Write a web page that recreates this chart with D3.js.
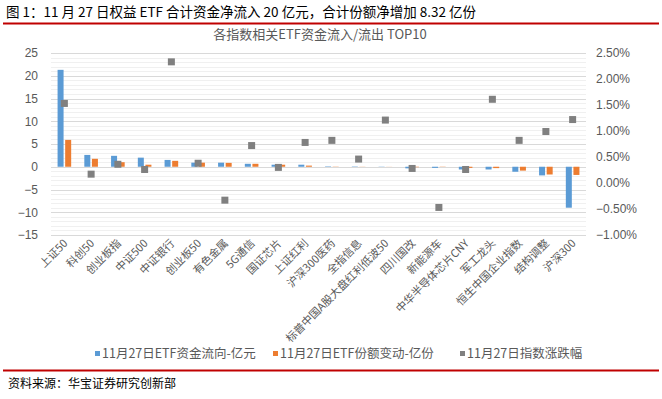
<!DOCTYPE html>
<html>
<head>
<meta charset="utf-8">
<script src="https://cdn.jsdelivr.net/npm/d3@7"></script>
<style>
  body { margin: 0; background: #fff; }
  svg { display: block; font-family: "Noto Sans CJK SC", "Noto Sans", sans-serif; }
</style>
</head>
<body>
<svg id="chart" width="662" height="399"></svg>
<script>
const categories = [
  "上证50", "科创50", "创业板指", "中证500", "中证银行", "创业板50", "有色金属",
  "5G通信", "国证芯片", "上证红利", "沪深300医药", "全指信息", "标普中国A股大盘红利低波50",
  "四川国改", "新能源车", "中华半导体芯片CNY", "军工龙头", "恒生中国企业指数", "结构调整", "沪深300"
];
const flowValues = [21.3, 2.6, 2.4, 2.0, 1.5, 0.9, 0.9, 0.65, 0.45, 0.45, 0.1, 0.08, 0.05,
  -0.35, -0.25, -0.6, -0.6, -1.1, -1.9, -9.0];
const shareValues = [5.9, 1.75, 1.0, 0.45, 1.3, 0.9, 0.85, 0.65, 0.45, 0.25, 0.05, 0.03, 0.02,
  -0.1, -0.05, -0.25, -0.3, -0.85, -1.7, -1.8];
const changeValues = [1.53, 0.17, 0.36, 0.26, 2.33, 0.38, -0.33, 0.72, 0.30, 0.78, 0.82, 0.46, 1.21,
  0.28, -0.47, 0.26, 1.61, 0.82, 0.99, 1.22];
const leftTicks = [25, 20, 15, 10, 5, 0, -5, -10, -15];
const rightTicks = [2.5, 2.0, 1.5, 1.0, 0.5, 0, -0.5, -1.0];
const seriesNames = ["11月27日ETF资金流向-亿元", "11月27日ETF份额变动-亿份", "11月27日指数涨跌幅"];
const colors = ["#5b9bd5", "#ed7d31", "#808080"];

const plot = { left: 51, right: 586, top: 53, bottom: 235 };
const svg = d3.select("#chart");

// header
svg.append("text").attr("x", 6).attr("y", 17)
  .attr("font-size", 13.5).attr("fill", "#000")
  .text("图 1：11 月 27 日权益 ETF 合计资金净流入 20 亿元，合计份额净增加 8.32 亿份");
svg.append("line").attr("x1", 3).attr("x2", 659).attr("y1", 23.5).attr("y2", 23.5)
  .attr("stroke", "#c00000").attr("stroke-width", 2);
svg.append("text").attr("x", 320).attr("y", 39).attr("text-anchor", "middle")
  .attr("font-size", 13).attr("fill", "#595959")
  .text("各指数相关ETF资金流入/流出 TOP10");

const x = d3.scaleBand().domain(categories).range([plot.left, plot.right]);
const y = d3.scaleLinear().domain([-15, 25]).range([plot.bottom, plot.top]);
const y2 = d3.scaleLinear().domain([-1.0, 2.5]).range([plot.bottom, plot.top]);

// gridlines
svg.append("g").selectAll("line").data(d3.range(-15, 26, 1).filter(v => v % 5 !== 0)).join("line")
  .attr("x1", plot.left).attr("x2", plot.right)
  .attr("y1", d => Math.round(y(d)) + 0.5).attr("y2", d => Math.round(y(d)) + 0.5)
  .attr("stroke", "#f0f0f0");
svg.append("g").selectAll("line").data(leftTicks).join("line")
  .attr("x1", plot.left).attr("x2", plot.right)
  .attr("y1", d => Math.round(y(d)) + 0.5).attr("y2", d => Math.round(y(d)) + 0.5)
  .attr("stroke", "#d9d9d9");

// axes
svg.append("g")
  .attr("transform", "translate(" + (plot.left - 10) + ",0)")
  .call(d3.axisLeft(y).tickValues(leftTicks).tickSize(0).tickPadding(3))
  .call(g => g.select(".domain").remove())
  .selectAll("text").attr("font-size", 12).attr("fill", "#595959")
  .attr("font-family", "Liberation Sans, Arial, sans-serif");

svg.append("g")
  .attr("transform", "translate(" + (plot.right + 7) + ",0)")
  .call(d3.axisRight(y2).tickValues(rightTicks).tickSize(0).tickPadding(3)
    .tickFormat(d => d3.format(".2f")(d) + "%"))
  .call(g => g.select(".domain").remove())
  .selectAll("text").attr("font-size", 12).attr("fill", "#595959")
  .attr("font-family", "Liberation Sans, Arial, sans-serif");

// bars
const barW = 6;
const bars = svg.append("g");
bars.selectAll(".flow").data(categories).join("rect")
  .attr("x", (d) => x(d) + x.bandwidth() / 2 - barW - 0.8)
  .attr("width", barW)
  .attr("y", (d, i) => y(Math.max(0, flowValues[i])))
  .attr("height", (d, i) => Math.abs(y(flowValues[i]) - y(0)))
  .attr("fill", colors[0]);
bars.selectAll(".share").data(categories).join("rect")
  .attr("x", (d) => x(d) + x.bandwidth() / 2 + 0.8)
  .attr("width", barW)
  .attr("y", (d, i) => y(Math.max(0, shareValues[i])))
  .attr("height", (d, i) => Math.abs(y(shareValues[i]) - y(0)))
  .attr("fill", colors[1]);

// markers
const ms = 7;
svg.append("g").selectAll("rect").data(categories).join("rect")
  .attr("x", (d) => x(d) + x.bandwidth() / 2 - ms / 2)
  .attr("y", (d, i) => y2(changeValues[i]) - ms / 2)
  .attr("width", ms).attr("height", ms)
  .attr("fill", colors[2]);

// category labels
svg.append("g").selectAll("text").data(categories).join("text")
  .attr("transform", d => "translate(" + (x(d) + x.bandwidth() / 2 + 4) + "," + (plot.bottom + 9) + ") rotate(-45)")
  .attr("text-anchor", "end")
  .attr("font-size", 11).attr("fill", "#595959")
  .text(d => d);

// legend
const legendX = [95, 273, 460];
const legend = svg.append("g");
seriesNames.forEach((name, i) => {
  legend.append("rect").attr("x", legendX[i]).attr("y", 351).attr("width", 5).attr("height", 5)
    .attr("fill", colors[i]);
  legend.append("text").attr("x", legendX[i] + 7).attr("y", 358)
    .attr("font-size", 12.5).attr("fill", "#595959").text(name);
});

// footer
svg.append("line").attr("x1", 3).attr("x2", 659).attr("y1", 370.5).attr("y2", 370.5)
  .attr("stroke", "#c00000").attr("stroke-width", 2);
svg.append("text").attr("x", 8).attr("y", 388)
  .attr("font-size", 12).attr("fill", "#000")
  .text("资料来源：华宝证券研究创新部");
</script>
</body>
</html>
